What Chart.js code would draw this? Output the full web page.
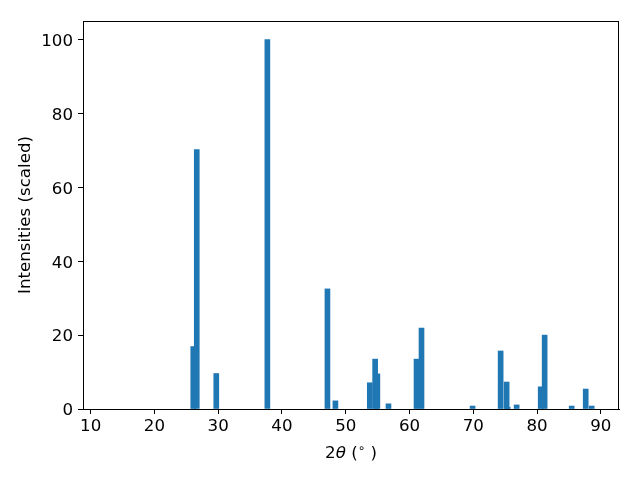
<!DOCTYPE html>
<html>
<head>
<meta charset="utf-8">
<script src="https://cdn.jsdelivr.net/npm/chart.js@4/dist/chart.umd.min.js"></script>
<style>html,body{margin:0;padding:0;background:#fff}</style>
</head>
<body>
<canvas id="xrdChart" width="640" height="480" style="width:640px;height:480px"></canvas>
<script>
// peak positions (2 theta, degrees) and scaled intensities
const twoTheta = [26.09, 26.64, 29.70, 37.71, 47.13, 48.38, 53.77, 54.61, 54.96, 56.70,
  61.10, 61.88, 69.89, 74.29, 75.23, 75.40, 76.80, 80.57, 81.19, 85.43, 87.63, 88.57];
const intensity = [16.9, 70.2, 9.6, 100, 32.5, 2.2, 7.1, 13.5, 9.5, 1.4,
  13.5, 21.9, 0.8, 15.7, 7.3, 0.5, 1.1, 6.0, 20.0, 0.8, 5.4, 0.8];
const xTicks = [10, 20, 30, 40, 50, 60, 70, 80, 90];
const yTicks = [0, 20, 40, 60, 80, 100];

Chart.defaults.font.family = 'DejaVu Sans';
Chart.defaults.font.size = 16.67;
Chart.defaults.color = '#000';

// box around the plot + x label with italic theta
const frameAndLabel = {
  id: 'frameAndLabel',
  afterDraw(chart) {
    const { ctx, chartArea: a } = chart;
    ctx.save();
    ctx.strokeStyle = '#000';
    ctx.lineWidth = 1;
    ctx.strokeRect(a.left + 0.5, a.top + 0.5, a.right - a.left - 1, a.bottom - a.top);

    const parts = [
      { t: '2', f: '16.67px "DejaVu Sans"', dy: 0 },
      { t: 'θ', f: 'italic 16.67px "DejaVu Sans"', dy: 0 },
      { t: ' (', f: '16.67px "DejaVu Sans"', dy: 0 },
      { t: '∘', f: '12px "DejaVu Sans"', dy: -6 },
      { t: ' )', f: '16.67px "DejaVu Sans"', dy: 0 }
    ];
    let total = 0;
    parts.forEach(p => { ctx.font = p.f; p.w = ctx.measureText(p.t).width; total += p.w; });
    let x = (a.left + a.right) / 2 - total / 2;
    ctx.fillStyle = '#000';
    ctx.textBaseline = 'alphabetic';
    ctx.textAlign = 'left';
    parts.forEach(p => { ctx.font = p.f; ctx.fillText(p.t, x, 458 + p.dy); x += p.w; });
    ctx.restore();
  }
};

new Chart(document.getElementById('xrdChart').getContext('2d'), {
  type: 'bar',
  data: {
    datasets: [{
      label: 'Intensities',
      data: twoTheta.map((x, i) => ({ x: x, y: intensity[i] })),
      backgroundColor: '#1f77b4',
      borderWidth: 0,
      barThickness: 5
    }]
  },
  options: {
    responsive: false,
    animation: false,
    devicePixelRatio: 1,
    layout: { padding: { left: 0, right: 21, top: 21, bottom: 0 } },
    plugins: { legend: { display: false }, tooltip: { enabled: false } },
    scales: {
      x: {
        type: 'linear',
        min: 8.8,
        max: 92.85,
        offset: false,
        afterBuildTicks: s => { s.ticks = xTicks.map(v => ({ value: v })); },
        afterFit: s => { s.height = 71; },
        grid: { offset: false, drawOnChartArea: false, drawTicks: true, tickLength: 5, color: '#000' },
        border: { display: true, color: '#000' },
        ticks: { padding: 3, maxRotation: 0 }
      },
      y: {
        min: 0,
        max: 105,
        afterBuildTicks: s => { s.ticks = yTicks.map(v => ({ value: v })); },
        afterFit: s => { s.width = 83; },
        grid: { drawOnChartArea: false, drawTicks: true, tickLength: 5, color: '#000' },
        border: { display: true, color: '#000' },
        ticks: { padding: 5, labelOffset: 2 },
        title: { display: true, text: 'Intensities (scaled)', padding: { top: 16, bottom: 0 } }
      }
    }
  },
  plugins: [frameAndLabel]
});
</script>
</body>
</html>
